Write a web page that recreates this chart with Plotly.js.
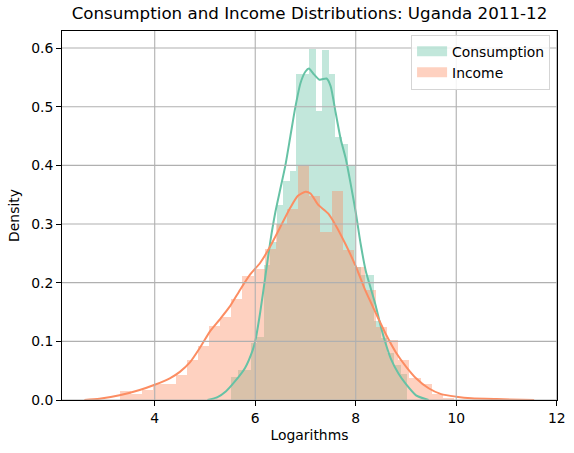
<!DOCTYPE html>
<html>
<head>
<meta charset="utf-8">
<script src="https://cdn.plot.ly/plotly-3.0.1.min.js"></script>
<style>html,body{margin:0;padding:0;background:#fff}#chart{width:574px;height:453px}</style>
</head>
<body>
<div id="chart"></div>
<script>
// ---- Data ----
const seriesNames = ["Consumption", "Income"];

// Consumption histogram (density), equal-width bins
const consBinStart = 5.524;
const consBinWidth = 0.1295;
const consDensity = [0.040, 0.051, 0.051, 0.097, 0.108, 0.230, 0.270, 0.333, 0.373, 0.390,
                     0.556, 0.556, 0.598, 0.492, 0.596, 0.556, 0.449, 0.436, 0.399, 0.227,
                     0.213, 0.213, 0.135, 0.105, 0.080, 0.060, 0.045];

// Income histogram (density), equal-width bins
const incBinStart = 3.310;
const incBinWidth = 0.2215;
const incDensity = [0.0153, 0.0097, 0.017, 0.028, 0.028, 0.043, 0.068, 0.092, 0.126, 0.141,
                    0.172, 0.211, 0.224, 0.257, 0.300, 0.326, 0.399, 0.348, 0.287, 0.357,
                    0.256, 0.227, 0.1875, 0.125, 0.102, 0.068, 0.038, 0.028, 0.010, 0.003];

// Consumption KDE curve (read points)
const consKdeX = [5.05, 5.25, 5.42, 5.6, 5.8, 5.95, 6.0, 6.1, 6.2, 6.3, 6.4, 6.5, 6.6, 6.7, 6.8,
                  6.9, 7.0, 7.07, 7.15, 7.28, 7.42, 7.5, 7.6, 7.7, 7.8, 7.9, 8.0, 8.1, 8.2, 8.3,
                  8.4, 8.5, 8.6, 8.7, 8.85, 9.0, 9.2, 9.45];
const consKdeY = [0.000, 0.005, 0.015, 0.032, 0.055, 0.085, 0.100, 0.150, 0.210, 0.270, 0.320,
                  0.360, 0.400, 0.450, 0.500, 0.540, 0.560, 0.565, 0.557, 0.546, 0.548, 0.535,
                  0.490, 0.445, 0.412, 0.368, 0.320, 0.265, 0.220, 0.190, 0.160, 0.125, 0.095,
                  0.070, 0.045, 0.027, 0.008, 0.000];

// Income KDE curve (read points)
const incKdeX = [2.6, 2.9, 3.3, 3.7, 4.0, 4.3, 4.5, 4.7, 4.9, 5.1, 5.3, 5.5, 5.7, 5.9, 6.1, 6.3,
                 6.5, 6.7, 6.85, 7.0, 7.1, 7.25, 7.45, 7.6, 7.8, 8.0, 8.2, 8.4, 8.6, 8.8, 9.0,
                 9.2, 9.45, 9.7, 10.0, 10.3, 10.8, 11.55];
const incKdeY = [0.000, 0.002, 0.008, 0.017, 0.026, 0.037, 0.048, 0.064, 0.089, 0.117, 0.138,
                 0.160, 0.188, 0.214, 0.234, 0.262, 0.295, 0.328, 0.348, 0.355, 0.352, 0.333,
                 0.318, 0.298, 0.265, 0.228, 0.185, 0.148, 0.112, 0.081, 0.057, 0.037, 0.020,
                 0.010, 0.0057, 0.003, 0.0015, 0.000];

const xTicks = [4, 6, 8, 10, 12];
const yTicks = [0.0, 0.1, 0.2, 0.3, 0.4, 0.5, 0.6];

// ---- Styling ----
const green = "#66c2a5", orange = "#fc8d62";
const greenFill = "rgba(102,194,165,0.4)", orangeFill = "rgba(252,141,98,0.4)";
const FONT = "DejaVu Sans, Liberation Sans, sans-serif";
const FS = 13.9;

const traces = [
  {type: "bar", name: seriesNames[0], x0: consBinStart + consBinWidth / 2, dx: consBinWidth,
   y: consDensity, width: consBinWidth, showlegend: false,
   marker: {color: greenFill, line: {width: 0}}, hoverinfo: "skip"},
  {type: "scatter", mode: "lines", x: consKdeX, y: consKdeY, showlegend: false,
   line: {color: green, width: 2, shape: "spline", smoothing: 0.6}, hoverinfo: "skip"},
  {type: "bar", name: seriesNames[1], x0: incBinStart + incBinWidth / 2, dx: incBinWidth,
   y: incDensity, width: incBinWidth, showlegend: false,
   marker: {color: orangeFill, line: {width: 0}}, hoverinfo: "skip"},
  {type: "scatter", mode: "lines", x: incKdeX, y: incKdeY, showlegend: false,
   line: {color: orange, width: 2, shape: "spline", smoothing: 0.6}, hoverinfo: "skip"},
  // legend entries (wide rectangular patches like matplotlib's)
  {type: "scatter", mode: "lines", name: seriesNames[0], x: [null], y: [null],
   line: {color: greenFill, width: 10}, hoverinfo: "skip"},
  {type: "scatter", mode: "lines", name: seriesNames[1], x: [null], y: [null],
   line: {color: orangeFill, width: 10}, hoverinfo: "skip"}
];

const gridShapes = [];
xTicks.forEach(t => gridShapes.push({type: "line", xref: "x", yref: "paper", x0: t, x1: t, y0: 0, y1: 1,
  line: {color: "#b0b0b0", width: 1.1}, layer: "above"}));
yTicks.forEach(t => gridShapes.push({type: "line", xref: "paper", yref: "y", x0: 0, x1: 1, y0: t, y1: t,
  line: {color: "#b0b0b0", width: 1.1}, layer: "above"}));

const axisCommon = {
  ticks: "outside", ticklen: 5, tickwidth: 1, tickcolor: "#000",
  showline: true, linecolor: "#000", linewidth: 1, mirror: true,
  showgrid: false, zeroline: false,
  tickfont: {family: FONT, size: FS, color: "#000"}
};

const layout = {
  width: 574, height: 453,
  margin: {l: 62, r: 17, t: 31, b: 53},
  paper_bgcolor: "#fff", plot_bgcolor: "#fff",
  barmode: "overlay", bargap: 0,
  font: {family: FONT, size: FS, color: "#000"},
  title: {text: "Consumption and Income Distributions: Uganda 2011-12",
          font: {family: FONT, size: 16.7, color: "#000"},
          x: 0.5, xref: "paper", xanchor: "center", y: 1 - 13 / 453, yref: "container", yanchor: "middle"},
  xaxis: Object.assign({}, axisCommon, {range: [2.155, 12.005], tickvals: xTicks, ticktext: xTicks.map(String),
          title: {text: "Logarithms", font: {family: FONT, size: FS, color: "#000"}, standoff: 5}}),
  yaxis: Object.assign({}, axisCommon, {range: [0, 0.629], tickvals: yTicks, ticktext: yTicks.map(v => v.toFixed(1)),
          title: {text: "Density", font: {family: FONT, size: FS, color: "#000"}, standoff: 8}}),
  legend: {x: 0.986, y: 0.99, xanchor: "right", yanchor: "top", xref: "paper", yref: "paper",
           bgcolor: "rgba(255,255,255,0.85)", bordercolor: "#d5d5d5", borderwidth: 1,
           font: {family: FONT, size: FS, color: "#000"}, itemwidth: 30, tracegroupgap: 0},
  shapes: gridShapes,
  showlegend: true
};

Plotly.newPlot("chart", traces, layout, {displayModeBar: false, staticPlot: true});
</script>
</body>
</html>
